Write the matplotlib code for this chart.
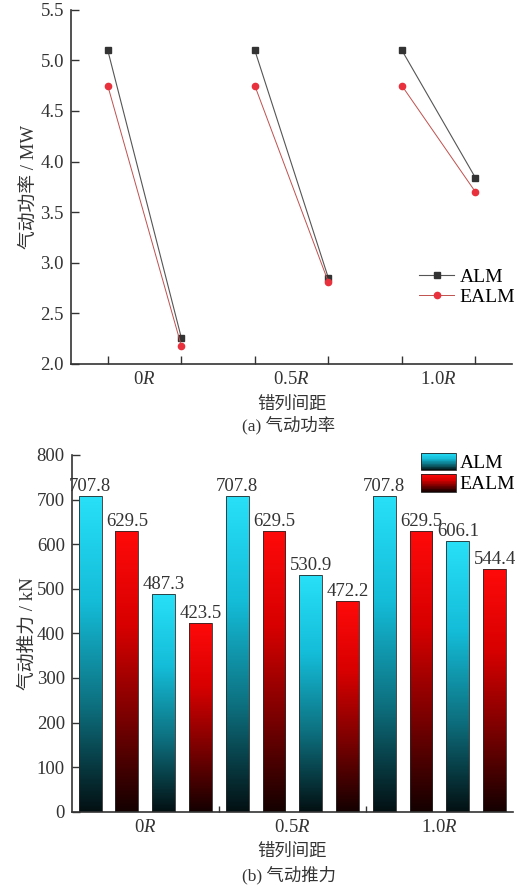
import numpy as np
import matplotlib
matplotlib.use("Agg")
from matplotlib import pyplot as plt
from matplotlib.colors import LinearSegmentedColormap
from matplotlib.patches import Rectangle
from matplotlib.legend_handler import HandlerBase

# polices : Times-like pour les chiffres, CJK pour le chinois
plt.rcParams['font.family'] = ['Liberation Serif', 'Noto Sans CJK SC']
plt.rcParams['mathtext.fontset'] = 'custom'
plt.rcParams['mathtext.rm'] = 'Liberation Serif'
plt.rcParams['mathtext.it'] = 'Liberation Serif:italic'
plt.rcParams['axes.unicode_minus'] = False

# ================================
# Données
# ================================
groups = ['0$\\mathit{R}$', '0.5$\\mathit{R}$', '1.0$\\mathit{R}$']

# (a) puissance : amont / aval pour chaque écartement
power_alm = [[5.10, 2.26], [5.10, 2.85], [5.10, 3.84]]
power_ealm = [[4.75, 2.18], [4.75, 2.81], [4.75, 3.70]]

# (b) poussée : ALM amont, EALM amont, ALM aval, EALM aval
thrust_alm = [[707.8, 487.3], [707.8, 530.9], [707.8, 606.1]]
thrust_ealm = [[629.5, 423.5], [629.5, 472.2], [629.5, 544.4]]

cmap_alm = LinearSegmentedColormap.from_list('alm', ['#031012', '#0d6f7e', '#14bcd8', '#28e0f8'])
cmap_ealm = LinearSegmentedColormap.from_list('ealm', ['#140000', '#7a0000', '#d80000', '#ff0a0a'])

FS = 13.5
FS_CN = 12.5
fig = plt.figure(figsize=(5.16, 8.92), dpi=100)


def style_axes(ax):
    for side in ['top', 'right']:
        ax.spines[side].set_visible(False)
    for side in ['left', 'bottom']:
        ax.spines[side].set_linewidth(1.2)
        ax.spines[side].set_color('#333333')
    ax.tick_params(which='major', direction='in', length=6, width=1.0, pad=5,
                   colors='#333333', labelcolor='#333333', labelsize=FS)
    ax.tick_params(axis='x', which='minor', length=0, labelsize=FS,
                   labelcolor='#333333', pad=5)


# ================================
# (a) Puissance aérodynamique
# ================================
ax1 = fig.add_axes([0.1376, 0.592, 0.855, 0.397])
for g in range(3):
    xs = [2 * g + 1, 2 * g + 2]
    ax1.plot(xs, power_alm[g], color='#555555', lw=0.8, marker='s', ms=4,
             mfc='#333333', mec='#333333', label='ALM' if g == 0 else None)
    ax1.plot(xs, power_ealm[g], color='#c0504d', lw=0.7, marker='o', ms=4.5,
             mfc='#e8313c', mec='#e8313c', label='EALM' if g == 0 else None)

ax1.set_xlim(0.5, 6.5)
ax1.set_ylim(2.0, 5.5)
ax1.set_yticks(np.arange(2.0, 5.51, 0.5))
ax1.set_yticklabels(['%.1f' % v for v in np.arange(2.0, 5.51, 0.5)])
ax1.set_xticks(range(1, 7))
ax1.set_xticklabels([''] * 6)
ax1.set_xticks([1.5, 3.5, 5.5], minor=True)
ax1.set_xticklabels(groups, minor=True)
style_axes(ax1)
ax1.set_xlabel('错列间距', fontsize=FS_CN, color='#333333', labelpad=6)
ax1.set_ylabel('气动功率 / MW', fontsize=FS, color='#333333', labelpad=2)
ax1.legend(loc='lower right', bbox_to_anchor=(1.046, 0.115), frameon=False,
           fontsize=FS + 0.5, handlelength=1.75, handletextpad=0.3, labelspacing=0.1)
fig.text(0.56, 1 - 425 / 892, '(a) 气动功率', ha='center', va='center',
         fontsize=FS_CN, color='#333333')


# ================================
# (b) Poussée aérodynamique
# ================================
class GradientHandler(HandlerBase):
    def __init__(self, cmap):
        super().__init__()
        self.cmap = cmap

    def create_artists(self, legend, orig_handle, xdescent, ydescent,
                       width, height, fontsize, trans):
        arts = []
        n = 24
        for i in range(n):
            r = Rectangle((-xdescent, -ydescent + height * i / n), width,
                          height / n + 0.2, facecolor=self.cmap((i + 0.5) / n),
                          edgecolor='none', transform=trans)
            arts.append(r)
        arts.append(Rectangle((-xdescent, -ydescent), width, height,
                              facecolor='none', edgecolor='#222222', lw=0.6,
                              transform=trans))
        return arts


ax2 = fig.add_axes([0.139, 0.090, 0.855, 0.400])
bw = 0.155
grad = np.linspace(0, 1, 256).reshape(-1, 1)
for g in range(3):
    xs = [g + 0.125, g + 0.375, g + 0.625, g + 0.875]
    vals = [thrust_alm[g][0], thrust_ealm[g][0], thrust_alm[g][1], thrust_ealm[g][1]]
    cmaps = [cmap_alm, cmap_ealm, cmap_alm, cmap_ealm]
    bars = ax2.bar(xs, vals, width=bw, facecolor='none', edgecolor='#2a2a2a',
                   lw=0.6, zorder=3)
    for b, v, cm in zip(bars, vals, cmaps):
        x0 = b.get_x()
        im = ax2.imshow(grad, extent=[x0, x0 + bw, 0, v], origin='lower',
                        cmap=cm, aspect='auto', zorder=2)
        im.set_clip_path(b)
        ax2.text(b.get_x() + bw / 2, v + 3, '%.1f' % v, ha='center', va='bottom',
                 fontsize=FS, color='#333333')

ax2.set_xlim(0, 3)
ax2.set_ylim(0, 800)
ax2.set_yticks(range(0, 801, 100))
ax2.set_xticks([1, 2])
ax2.set_xticklabels(['', ''])
ax2.set_xticks([0.5, 1.5, 2.5], minor=True)
ax2.set_xticklabels(groups, minor=True)
style_axes(ax2)
ax2.tick_params(axis='x', which='major', length=4)
ax2.set_xlabel('错列间距', fontsize=FS_CN, color='#333333', labelpad=6)
ax2.set_ylabel('气动推力 / kN', fontsize=FS, color='#333333', labelpad=0)

h1 = Rectangle((0, 0), 1, 1)
h2 = Rectangle((0, 0), 1, 1)
ax2.legend([h1, h2], ['ALM', 'EALM'], loc='upper right',
           bbox_to_anchor=(1.045, 1.055), frameon=False, fontsize=FS + 0.5,
           handlelength=1.8, handleheight=1.0, handletextpad=0.2,
           labelspacing=0.1,
           handler_map={h1: GradientHandler(cmap_alm), h2: GradientHandler(cmap_ealm)})
fig.text(0.56, 1 - 875 / 892, '(b) 气动推力', ha='center', va='center',
         fontsize=FS_CN, color='#333333')

fig.savefig('out.png', dpi=100)
